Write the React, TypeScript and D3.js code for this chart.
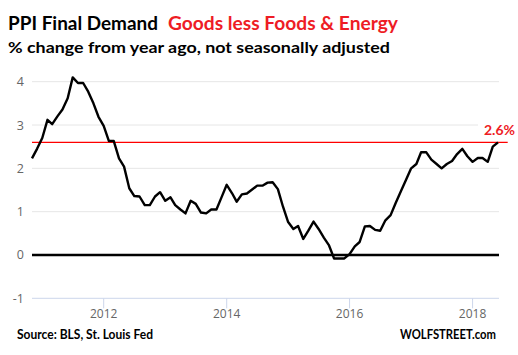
import React from "react";
import * as d3 from "d3";

const startMonth = "2010-11-01";
const values: number[] = [
  2.23, 2.45, 2.7, 3.12, 3.02, 3.2, 3.36, 3.62, 4.1, 3.97,
  3.97, 3.77, 3.5, 3.19, 2.98, 2.63, 2.63, 2.23, 2.04, 1.54,
  1.36, 1.35, 1.15, 1.15, 1.35, 1.45, 1.25, 1.33, 1.15, 1.05,
  0.96, 1.25, 1.18, 0.98, 0.96, 1.05, 1.05, 1.33, 1.62, 1.43,
  1.23, 1.4, 1.42, 1.51, 1.6, 1.6, 1.67, 1.68, 1.52, 1.12,
  0.76, 0.6, 0.67, 0.37, 0.56, 0.77, 0.6, 0.4, 0.22, -0.08,
  -0.08, -0.08, 0.02, 0.2, 0.3, 0.66, 0.67, 0.58, 0.56, 0.8,
  0.92, 1.2, 1.47, 1.73, 2.0, 2.1, 2.37, 2.37, 2.2, 2.1,
  2.0, 2.1, 2.17, 2.33, 2.45, 2.28, 2.15, 2.24, 2.24, 2.15,
  2.5, 2.6,
];
const yTicks = [-1, 0, 1, 2, 3, 4];
const xTickYears = [2012, 2014, 2016, 2018];
const refValue = 2.6;
const refLabel = "2.6%";
const titleBlack = "PPI Final Demand";
const titleRed = "Goods less Foods & Energy";
const subtitle = "% change from year ago, not seasonally adjusted";
const sourceText = "Source: BLS, St. Louis Fed";
const brandText = "WOLFSTREET.com";

export default function App() {
  const W = 518, H = 355;
  const start = new Date(startMonth + "T00:00:00");
  const dates = values.map((_, i) => d3.timeMonth.offset(start, i));
  const x = d3.scaleTime().domain([dates[0], dates[dates.length - 1]]).range([32, 498]);
  const y = d3.scaleLinear().domain([-1, 4]).range([298.3, 81.7]);
  const line = d3.line<number>().x((_, i) => x(dates[i])).y((v) => y(v));
  const plotL = 32, plotR = 499;

  return (
    <svg width={W} height={H} style={{ position: "absolute", left: 0, top: 0, background: "#fff" }}>
      <rect x={0} y={0} width={W} height={H} fill="#fff" />
      {/* title */}
      <text x={8} y={29.5} fontFamily="Lato, 'Open Sans', sans-serif" fontWeight="bold" fontSize={18} fill="#000"
        textLength={150} lengthAdjust="spacingAndGlyphs">{titleBlack}</text>
      <text x={168} y={29.5} fontFamily="Lato, 'Open Sans', sans-serif" fontWeight="bold" fontSize={18} fill="#ee1c25"
        textLength={230} lengthAdjust="spacingAndGlyphs">{titleRed}</text>
      <text x={8} y={53} fontFamily="Lato, 'Open Sans', sans-serif" fontWeight="bold" fontSize={16} fill="#000"
        textLength={382} lengthAdjust="spacingAndGlyphs">{subtitle}</text>

      {/* grid */}
      {yTicks.filter((t) => t > 0).map((t) => (
        <line key={t} x1={plotL} x2={plotR} y1={y(t)} y2={y(t)} stroke="#e6e6e6" strokeWidth={1} />
      ))}
      {/* x axis line */}
      <line x1={plotL} x2={plotR} y1={y(-1)} y2={y(-1)} stroke="#ccd6eb" strokeWidth={1} />
      {xTickYears.map((yr) => {
        const xx = x(new Date(yr, 0, 1));
        return (
          <g key={yr}>
            <line x1={xx} x2={xx} y1={y(-1)} y2={y(-1) + 10} stroke="#ccd6eb" strokeWidth={1} />
            <text x={xx} y={317.5} textAnchor="middle" fontFamily="'Open Sans', sans-serif" fontSize={12} fill="#666">{yr}</text>
          </g>
        );
      })}
      {/* y labels */}
      {yTicks.map((t) => (
        <text key={t} x={24} y={y(t) + 4.5} textAnchor="end" fontFamily="'Open Sans', sans-serif" fontSize={12.5} fill="#666">{t}</text>
      ))}
      {/* zero line */}
      <line x1={plotL} x2={plotR} y1={y(0)} y2={y(0)} stroke="#000" strokeWidth={2.5} />
      {/* reference line */}
      <line x1={plotL} x2={507.7} y1={y(refValue)} y2={y(refValue)} stroke="#ff0000" strokeWidth={1.3} />
      <rect x={478} y={y(3) - 2} width={40} height={4} fill="#fff" />
      <text x={515} y={135} textAnchor="end" fontFamily="Lato, 'Open Sans', sans-serif" fontWeight="bold" fontSize={14} fill="#ee1c25">{refLabel}</text>
      {/* series */}
      <path d={line(values) || ""} fill="none" stroke="#000" strokeWidth={2.4} strokeLinejoin="round" />
      {/* footer */}
      <text x={17} y={339} fontFamily="Lato, 'Open Sans', sans-serif" fontWeight="bold" fontSize={12.5} fill="#000"
        textLength={136} lengthAdjust="spacingAndGlyphs">{sourceText}</text>
      <text x={400} y={339} fontFamily="Lato, 'Open Sans', sans-serif" fontWeight="bold" fontSize={12.5} fill="#000"
        textLength={96} lengthAdjust="spacingAndGlyphs">{brandText}</text>
    </svg>
  );
}
